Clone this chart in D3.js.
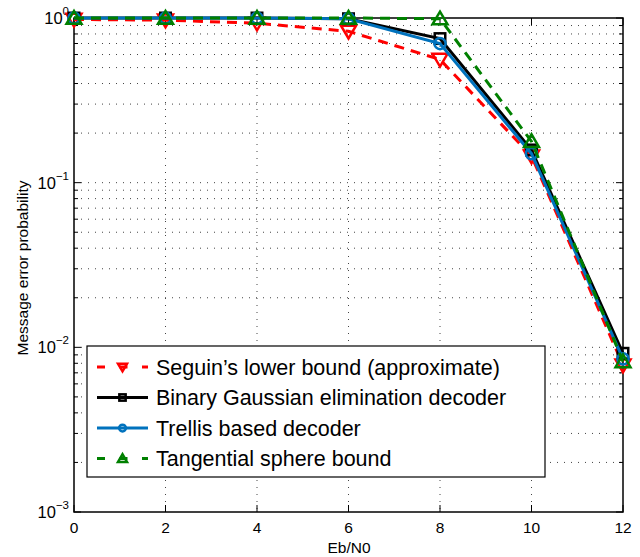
<!DOCTYPE html>
<html><head><meta charset="utf-8">
<script src="https://cdn.jsdelivr.net/npm/d3@7"></script>
<style>body{margin:0;background:#fff}svg{display:block;font-family:"Liberation Sans",Arial,sans-serif}</style>
</head><body><svg id="c" width="640" height="557"></svg>
<script>
const ebn0 = [0, 2, 4, 6, 8, 10, 12];
const seguin = [0.98, 0.97, 0.93, 0.83, 0.56, 0.145, 0.0078];
const binaryGauss = [1.0, 1.0, 1.0, 0.99, 0.75, 0.158, 0.0092];
const trellis = [1.0, 1.0, 1.0, 0.99, 0.70, 0.150, 0.0085];
const tsb = [1.0, 1.0, 1.0, 1.0, 0.99, 0.178, 0.0082];
const xTicks = [0, 2, 4, 6, 8, 10, 12];
const yTickExp = [0, -1, -2, -3];
const seriesNames = ["Seguin\u2019s lower bound (approximate)", "Binary Gaussian elimination decoder", "Trellis based decoder", "Tangential sphere bound"];

const svg = d3.select("#c");
const L = 74, R = 623, T = 18, B = 512;
const x = d3.scaleLinear().domain([0, 12]).range([L, R]);
const y = d3.scaleLog().domain([1e-3, 1]).range([B, T]);

const series = [
  {name: seriesNames[0], vals: seguin, color: "#ff0000", dash: "10,7", marker: "down"},
  {name: seriesNames[1], vals: binaryGauss, color: "#000000", dash: null, marker: "square"},
  {name: seriesNames[2], vals: trellis, color: "#0072bd", dash: null, marker: "circle"},
  {name: seriesNames[3], vals: tsb, color: "#008000", dash: "10,7", marker: "up"}
];

// grid
const g = svg.append("g");
const minor = [];
for (let e = -3; e < 0; e++) for (let m = 1; m < 10; m++) minor.push(m * Math.pow(10, e));
minor.push(1);
minor.forEach(v => {
  if (v === 1e-3 || v === 1) return;
  g.append("line").attr("x1", L).attr("x2", R).attr("y1", y(v)).attr("y2", y(v))
    .attr("stroke", "#444").attr("stroke-width", 1).attr("stroke-dasharray", "1,6");
});
xTicks.forEach(v => {
  if (v === 0 || v === 12) return;
  g.append("line").attr("x1", x(v)).attr("x2", x(v)).attr("y1", T).attr("y2", B)
    .attr("stroke", "#444").attr("stroke-width", 1).attr("stroke-dasharray", "1,6");
});

// ticks (inside)
minor.forEach(v => {
  const major = Math.abs(Math.log10(v) - Math.round(Math.log10(v))) < 1e-9;
  const len = major ? 7 : 4;
  g.append("line").attr("x1", L).attr("x2", L + len).attr("y1", y(v)).attr("y2", y(v)).attr("stroke", "#000");
  g.append("line").attr("x1", R).attr("x2", R - len).attr("y1", y(v)).attr("y2", y(v)).attr("stroke", "#000");
});
xTicks.forEach(v => {
  g.append("line").attr("x1", x(v)).attr("x2", x(v)).attr("y1", B).attr("y2", B - 7).attr("stroke", "#000");
  g.append("line").attr("x1", x(v)).attr("x2", x(v)).attr("y1", T).attr("y2", T + 7).attr("stroke", "#000");
});
svg.append("rect").attr("x", L).attr("y", T).attr("width", R - L).attr("height", B - T)
  .attr("fill", "none").attr("stroke", "#000").attr("stroke-width", 1.5);

// tick labels
xTicks.forEach(v => {
  svg.append("text").attr("x", x(v)).attr("y", B + 21).attr("text-anchor", "middle")
    .attr("font-size", 15.5).text(v);
});
yTickExp.forEach(e => {
  const t = svg.append("text").attr("x", L - 5).attr("y", y(Math.pow(10, e)) + 6).attr("text-anchor", "end")
    .attr("font-size", 16.5);
  t.append("tspan").text("10");
  t.append("tspan").attr("dy", -9).attr("font-size", 11.5).text(e === 0 ? "0" : "\u2212" + (-e));
});
svg.append("text").attr("x", 349).attr("y", 553).attr("text-anchor", "middle").attr("font-size", 15.5).text("Eb/N0");
svg.append("text").attr("transform", `translate(28,268) rotate(-90)`).attr("text-anchor", "middle")
  .attr("font-size", 15.5).text("Message error probability");

function drawMarker(sel, type, cx, cy, color, s) {
  if (type === "down") {
    sel.append("path").attr("d", `M${cx - s},${cy - s * 0.75}L${cx + s},${cy - s * 0.75}L${cx},${cy + s * 0.95}Z`)
      .attr("fill", "none").attr("stroke", color).attr("stroke-width", 2.5).attr("stroke-linejoin", "miter");
  } else if (type === "up") {
    sel.append("path").attr("d", `M${cx - s},${cy + s * 0.75}L${cx + s},${cy + s * 0.75}L${cx},${cy - s * 0.95}Z`)
      .attr("fill", "none").attr("stroke", color).attr("stroke-width", 2.5);
  } else if (type === "square") {
    const h = s * 0.7;
    sel.append("rect").attr("x", cx - h).attr("y", cy - h).attr("width", 2 * h).attr("height", 2 * h)
      .attr("fill", "none").attr("stroke", color).attr("stroke-width", 2.5);
  } else {
    sel.append("circle").attr("cx", cx).attr("cy", cy).attr("r", s * 0.75)
      .attr("fill", "none").attr("stroke", color).attr("stroke-width", 2.5);
  }
}

const line = d3.line().x((d, i) => x(ebn0[i])).y(d => y(d));
const plot = svg.append("g");
series.forEach(s => {
  plot.append("path").attr("d", line(s.vals)).attr("fill", "none").attr("stroke", s.color)
    .attr("stroke-width", 3).attr("stroke-dasharray", s.dash);
  s.vals.forEach((v, i) => drawMarker(plot, s.marker, x(ebn0[i]), y(v), s.color, 7.5));
});

// legend
const lg = svg.append("g");
const lx = 87, ly = 346, lw = 458, lh = 131;
lg.append("rect").attr("x", lx).attr("y", ly).attr("width", lw).attr("height", lh).attr("fill", "#fff")
  .attr("stroke", "#000").attr("stroke-width", 1.2);
series.forEach((s, i) => {
  const yy = ly + 21 + i * 30.5;
  lg.append("line").attr("x1", 97).attr("x2", 148).attr("y1", yy).attr("y2", yy).attr("stroke", s.color)
    .attr("stroke-width", 3).attr("stroke-dasharray", s.dash ? "8,14.5" : null);
  drawMarker(lg, s.marker, 122.5, yy, s.color, 4.5);
  lg.append("text").attr("x", 156).attr("y", yy + 7.5).attr("font-size", 21.5).text(s.name);
});
</script></body></html>
